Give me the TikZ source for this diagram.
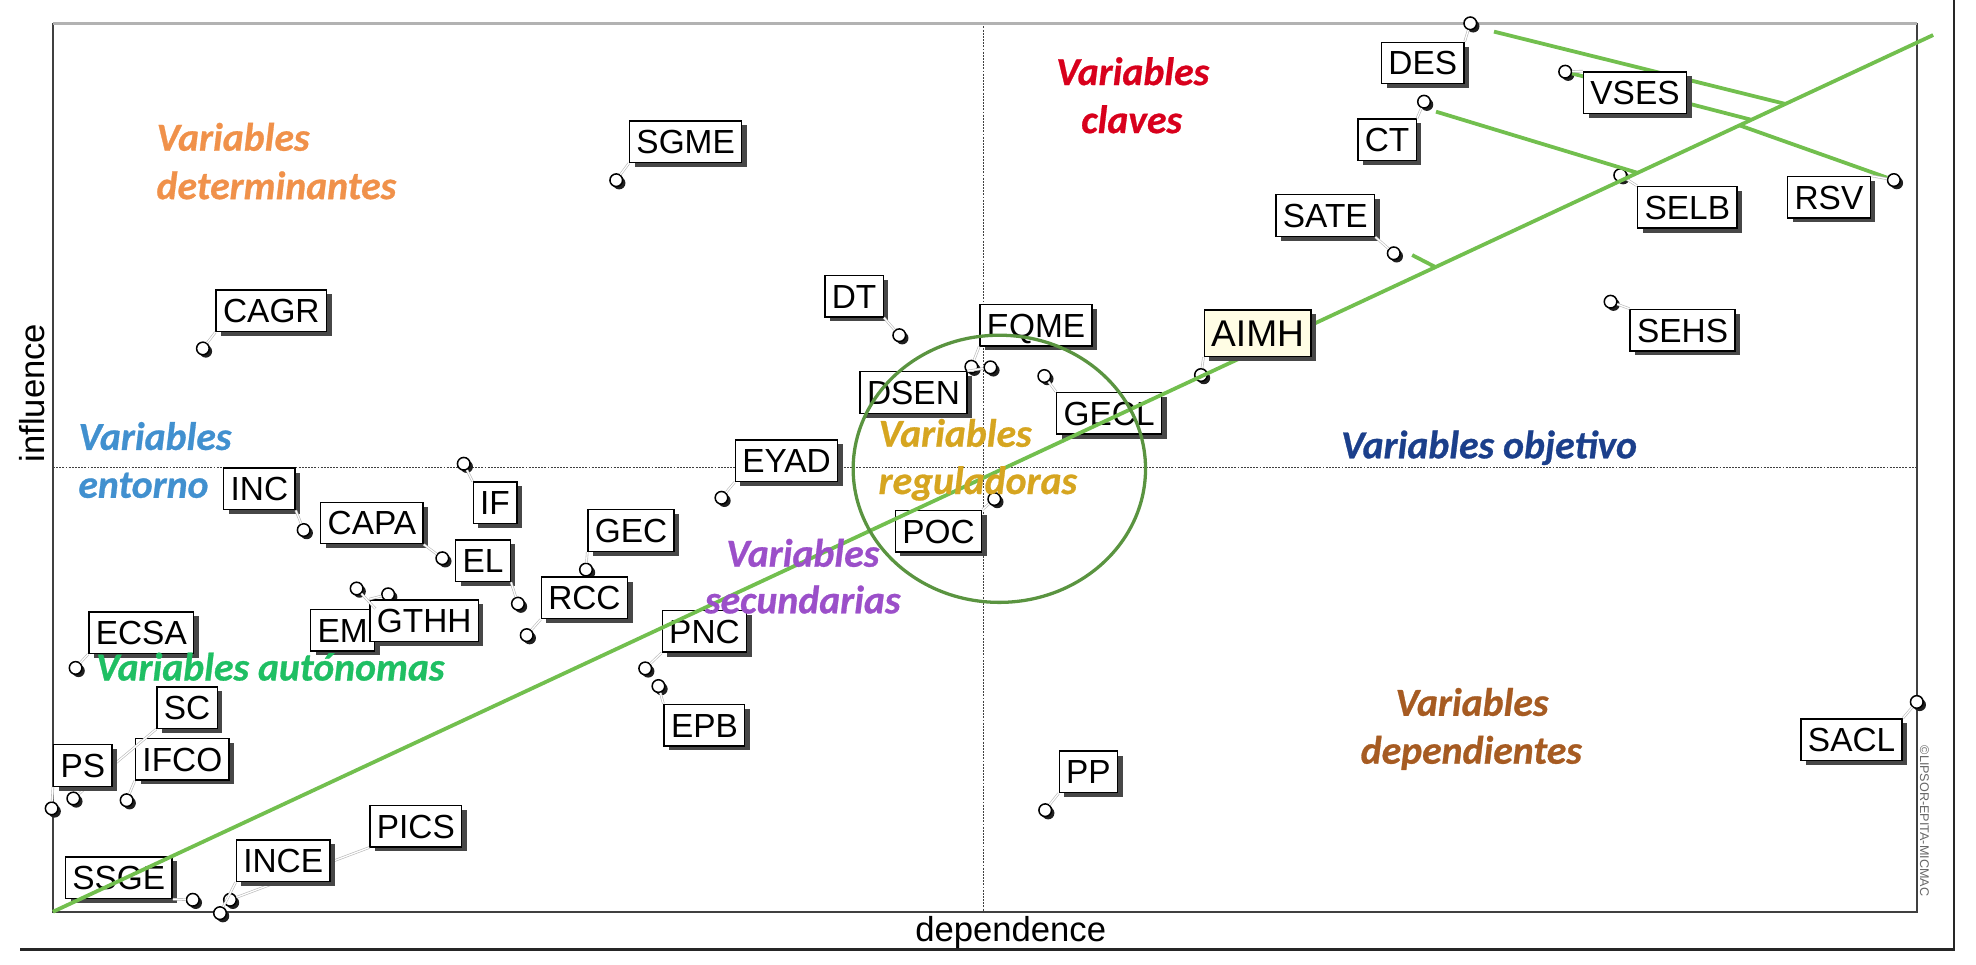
\documentclass[tikz,border=0pt]{standalone}
\usepackage{fontspec}
\setmainfont{Liberation Sans}
\newfontfamily\labfont{Carlito}[BoldItalicFeatures={FakeBold=0.7}]
\usetikzlibrary{shadows,calc}
\definecolor{diag}{HTML}{72BF4E}
\definecolor{ellc}{HTML}{5A9440}
\definecolor{cOrange}{HTML}{F0914A}
\definecolor{cRed}{HTML}{D8001C}
\definecolor{cBlue}{HTML}{4190CF}
\definecolor{cDarkBlue}{HTML}{1B3F8B}
\definecolor{cGold}{HTML}{D6A520}
\definecolor{cPurple}{HTML}{9B4FC9}
\definecolor{cGreen}{HTML}{1FBF63}
\definecolor{cBrown}{HTML}{A65B22}
\definecolor{hlYellow}{HTML}{FFFDE4}
\tikzset{
  var/.style={draw=black, line width=1.1pt, fill=white, anchor=west,
    font=\fontsize{26.5}{30}\selectfont, inner xsep=5.5pt, inner ysep=0pt,
    text height=19pt, text depth=0pt, minimum height=33pt,
    drop shadow={shadow xshift=4pt, shadow yshift=-3.5pt, fill=black!72, opacity=1}},
  bubble/.style={circle, draw=black, fill=white, line width=1.2pt, minimum size=10pt, inner sep=0pt,
    drop shadow={shadow xshift=2.3pt, shadow yshift=-2.3pt, fill=black!88, opacity=1}},
  conn/.style={draw=gray!55, line width=0.5pt, double=white, double distance=1pt},
  greenline/.style={draw=diag, line width=3pt},
  cat/.style={font=\labfont\bfseries\itshape\fontsize{31.5}{38}\selectfont, inner sep=0pt},
  axislab/.style={font=\fontsize{27.5}{30}\selectfont, inner sep=0pt},
  midline/.style={draw=black!75, line width=0.7pt, dash pattern=on 1.5pt off 1pt},
}
\begin{document}
\begin{tikzpicture}[x=1pt,y=-1pt]
\useasboundingbox (0,0) rectangle (1568,765);
% outer lines
\draw[black!85, line width=1.8pt] (16,753.4) -- (1550.5,753.4) -- (1550.5,0);
% mid lines
\draw[midline] (780.5,18.5) -- (780.5,723.5);
\draw[midline] (42,370.8) -- (1521,370.8);
% frame
\draw[black!75, line width=1.2pt] (42,18.5) rectangle (1521,723.5);
\draw[gray!60, line width=2.6pt] (42,18.5) -- (1521,18.5);
% axis labels
\node[axislab, anchor=base] (xlab) at (802,747.4) {dependence};
\node[axislab, rotate=90] (ylab) at (25.6,312) {influence};
\node[font=\fontsize{10}{12}\selectfont, text=black!60, rotate=-90, inner sep=0pt] (copy) at (1527,651.5) {©LIPSOR-EPITA-MICMAC};

% bubbles
\node[bubble] (bSGME) at (489,143) {};
\node[bubble] (bCAGR) at (161,276.5) {};
\node[bubble] (bDT) at (713.6,266) {};
\node[bubble] (bEQME) at (770.8,291) {};
\node[bubble] (bDSEN) at (785.9,291.5) {};
\node[bubble] (bGECL) at (828.7,298.4) {};
\node[bubble] (bAIMH) at (953,297.6) {};
\node[bubble] (bEYAD) at (572.5,395) {};
\node[bubble] (bPOC) at (789,396) {};
\node[bubble] (bINC) at (241,420.6) {};
\node[bubble] (bCAPA) at (351,443) {};
\node[bubble] (bIF) at (368,368) {};
\node[bubble] (bEL) at (411,479) {};
\node[bubble] (bGEC) at (465,452) {};
\node[bubble] (bRCC) at (418,504) {};
\node[bubble] (bEM) at (283,467) {};
\node[bubble] (bGTHH) at (308,471.6) {};
\node[bubble] (bECSA) at (60,530) {};
\node[bubble] (bSC) at (58.2,633.6) {};
\node[bubble] (bPS) at (41,641.5) {};
\node[bubble] (bIFCO) at (100.5,635) {};
\node[bubble] (bPNC) at (512,530.4) {};
\node[bubble] (bEPB) at (522.5,544.4) {};
\node[bubble] (bPP) at (829.4,642.9) {};
\node[bubble] (bSSGE) at (153,714) {};
\node[bubble] (bINCE) at (174.6,724.6) {};
\node[bubble] (bPICS) at (182.5,714) {};
\node[bubble] (bSACL) at (1521,557) {};
\node[bubble] (bDES) at (1166.7,18.5) {};
\node[bubble] (bVSES) at (1242,56.9) {};
\node[bubble] (bCT) at (1130,80.7) {};
\node[bubble] (bSATE) at (1106,201) {};
\node[bubble] (bSELB) at (1285.7,139) {};
\node[bubble] (bRSV) at (1502.8,142.9) {};
\node[bubble] (bSEHS) at (1278,239.4) {};

% diagonal reference points
\coordinate (D0) at (42,723.5);
\coordinate (D1) at (1534,27.8);
\coordinate (gA) at (1185.5,25.1);
\coordinate (gC) at (1139.5,88.6);
\coordinate (gD) at (1120.6,202.4);
% top-right green lines
\draw[greenline] (gA) -- ($(D0)!0.9214!(D1)$);
\draw[greenline] (bVSES) -- ($(D0)!0.9033!(D1)$);
\draw[greenline] ($(D0)!0.897!(D1)$) -- (bRSV);
\draw[greenline] (gC) -- ($(D0)!0.8428!(D1)$);
\draw[greenline] (gD) -- ($(D0)!0.7353!(D1)$);

% boxes
\node[var] (SGME) at (499,112.5) {SGME};
\node[var] (CAGR) at (171,246.5) {CAGR};
\node[var] (DT) at (654,235) {DT};
\node[var] (EQME) at (777,258) {EQME};
\node[var] (DSEN) at (682,311.5) {DSEN};
\node[var] (GECL) at (838,328) {GECL};
\node[var] (EYAD) at (583,365.5) {EYAD};
\node[var] (POC) at (710,421.5) {POC};
\node[var] (INC) at (177,388) {INC};
\node[var] (CAPA) at (254,415) {CAPA};
\node[var] (IF) at (375,399) {IF};
\node[var] (EL) at (361,445) {EL};
\node[var] (GEC) at (466,421) {GEC};
\node[var] (RCC) at (429,474.5) {RCC};
\node[var] (EM) at (246,500) {EM};
\node[var] (GTHH) at (293,492.5) {GTHH};
\node[var] (ECSA) at (70,502) {ECSA};
\node[var] (SC) at (124,561.5) {SC};
\node[var] (IFCO) at (107,602.5) {IFCO};
\node[var] (PNC) at (525,501) {PNC};
\node[var] (EPB) at (526.4,575.4) {EPB};
\node[var] (PP) at (840,612.5) {PP};
\node[var] (SSGE) at (51.4,696.5) {SSGE};
\node[var] (PICS) at (293,655.5) {PICS};
\node[var] (SACL) at (1428.6,587) {SACL};
\node[var] (DES) at (1095.7,50) {DES};
\node[var] (VSES) at (1256,73.5) {VSES};
\node[var] (CT) at (1077,111) {CT};
\node[var] (SATE) at (1012,171) {SATE};
\node[var] (SELB) at (1299,164.5) {SELB};
\node[var] (RSV) at (1418,156.5) {RSV};
\node[var] (SEHS) at (1293,262) {SEHS};

% connectors
\draw[conn] (bSGME) -- (SGME.south west);
\draw[conn] (bCAGR) -- (CAGR.south west);
\draw[conn] (bDT) -- (DT.south east);
\draw[conn] (bEQME) -- (EQME.south west);
\draw[conn] (bDSEN) -- (DSEN.north east);
\draw[conn] (bGECL) -- (GECL.north west);
\draw[conn] (bEYAD) -- (EYAD.south west);
\draw[conn] (bPOC) -- (POC.north east);
\draw[conn] (bINC) -- (INC.south east);
\draw[conn] (bCAPA) -- (CAPA.south east);
\draw[conn] (bIF) -- (IF.north west);
\draw[conn] (bEL) -- (EL.south east);
\draw[conn] (bGEC) -- (GEC.south west);
\draw[conn] (bRCC) -- (RCC.south west);
\draw[conn] (bEM) -- (EM.north east);
\draw[conn] (bGTHH) -- (GTHH.north west);
\draw[conn] (bECSA) -- (ECSA.south west);
\draw[conn] (bSC) -- (SC.south west);
\draw[conn] (bIFCO) -- (IFCO.south west);
\draw[conn] (bPNC) -- (PNC.south west);
\draw[conn] (bEPB) -- (EPB.north west);
\draw[conn] (bPP) -- (PP.south west);
\draw[conn] (bSSGE) -- (SSGE.south east);
\draw[conn] (bPICS) -- (PICS.south west);
\draw[conn] (bSACL) -- (SACL.north east);
\draw[conn] (bDES) -- (DES.north east);
\draw[conn] (bVSES) -- (VSES.north west);
\draw[conn] (bCT) -- (CT.north east);
\draw[conn] (bSATE) -- (SATE.south east);
\draw[conn] (bSELB) -- (SELB.north west);
\draw[conn] (bRSV) -- (RSV.north east);
\draw[conn] (bSEHS) -- (SEHS.north west);

% boxes drawn over the connectors passing behind them
\node[var] (PS) at (42,607.5) {PS};
\draw[conn] (bPS) -- (PS.south west);
\node[var] (INCE) at (187,683) {INCE};
\draw[conn] (bINCE) -- (INCE.south west);

% diagonal and circle
\draw[greenline] (D0) -- (D1);
\draw[ellc, line width=2.6pt] (793,372) ellipse [x radius=116, y radius=106];

% highlighted variable
\node[var, fill=hlYellow, font=\fontsize{29.5}{32}\selectfont, text height=21pt, minimum height=37pt] (AIMH) at (955,264.5) {AIMH};
\draw[conn] (bAIMH) -- (AIMH.south west);

% category labels
\node[cat, text=cOrange, anchor=base west] (det1) at (124,119.6) {Variables};
\node[cat, text=cOrange, anchor=base west] (det2) at (124,158) {determinantes};
\node[cat, text=cRed, anchor=base] (cla1) at (898.8,67.5) {Variables};
\node[cat, text=cRed, anchor=base] (cla2) at (898,105.6) {claves};
\node[cat, text=cBlue, anchor=base west] (ent1) at (62,357) {Variables};
\node[cat, text=cBlue, anchor=base west] (ent2) at (62,395) {entorno};
\node[cat, text=cDarkBlue, anchor=base west] (obj) at (1064,363.7) {Variables objetivo};
\node[cat, text=cGold, anchor=base west] (reg1) at (697,354.5) {Variables};
\node[cat, text=cGold, anchor=base west] (reg2) at (697,392) {reguladoras};
\node[cat, text=cPurple, anchor=base] (sec1) at (637,449.7) {Variables};
\node[cat, text=cPurple, anchor=base] (sec2) at (637,486.7) {secundarias};
\node[cat, text=cGreen, anchor=base west] (aut) at (76,540) {Variables autónomas};
\node[cat, text=cBrown, anchor=base] (dep1) at (1168,568) {Variables};
\node[cat, text=cBrown, anchor=base] (dep2) at (1167.5,606) {dependientes};
\end{tikzpicture}
\end{document}
